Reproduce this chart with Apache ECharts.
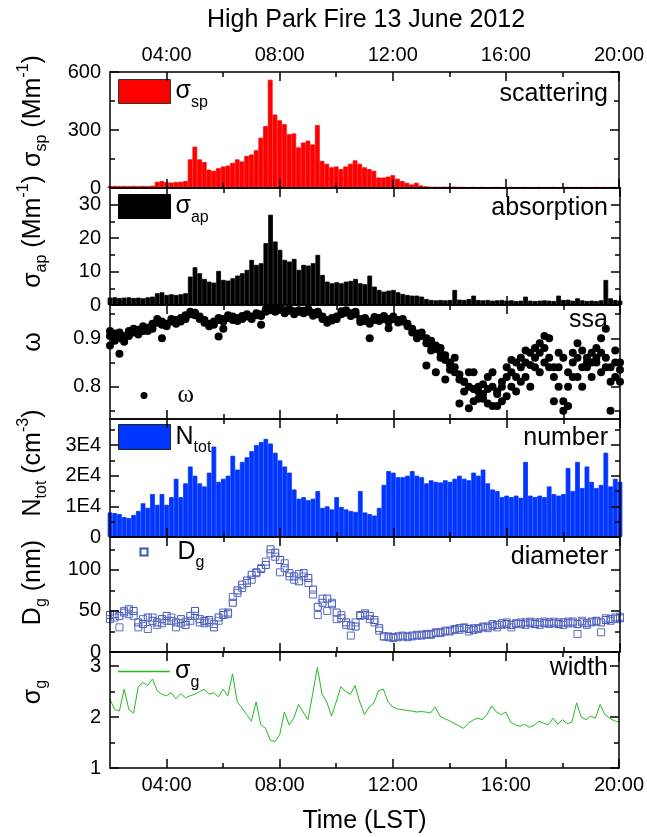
<!DOCTYPE html>
<html><head><meta charset="utf-8">
<script src="https://cdn.jsdelivr.net/npm/echarts@6/dist/echarts.min.js"></script>
<style>html,body{margin:0;padding:0;background:#fff}#c{width:647px;height:837px}</style>
</head><body><div id="c"></div>
<script>
// ---------------- DATA ----------------
const times = [
'02:00','02:10','02:20','02:30','02:40','02:50',
'03:00','03:10','03:20','03:30','03:40','03:50',
'04:00','04:10','04:20','04:30','04:40','04:50',
'05:00','05:10','05:20','05:30','05:40','05:50',
'06:00','06:10','06:20','06:30','06:40','06:50',
'07:00','07:10','07:20','07:30','07:40','07:50',
'08:00','08:10','08:20','08:30','08:40','08:50',
'09:00','09:10','09:20','09:30','09:40','09:50',
'10:00','10:10','10:20','10:30','10:40','10:50',
'11:00','11:10','11:20','11:30','11:40','11:50',
'12:00','12:10','12:20','12:30','12:40','12:50',
'13:00','13:10','13:20','13:30','13:40','13:50',
'14:00','14:10','14:20','14:30','14:40','14:50',
'15:00','15:10','15:20','15:30','15:40','15:50',
'16:00','16:10','16:20','16:30','16:40','16:50',
'17:00','17:10','17:20','17:30','17:40','17:50',
'18:00','18:10','18:20','18:30','18:40','18:50',
'19:00','19:10','19:20','19:30','19:40','19:50',
'20:00'];

const scattering = [
10,11,10,11,10,11,
10,11,10,12,32,36,
30,28,30,32,36,148,
214,148,134,95,89,102,
111,116,130,148,137,166,
173,195,260,320,560,380,
350,330,278,282,210,235,
245,225,325,140,125,107,
111,98,111,125,143,125,
107,98,89,54,54,59,
66,48,36,27,18,27,
13,9,7,7,6,7,
6,7,6,6,5,6,
5,6,5,5,6,5,
5,6,5,5,6,5,
5,6,5,5,6,5,
5,6,5,5,6,5,
5,6,5,6,5,6,
5];

const absorption = [
2.2,2.3,2.1,2.2,2.3,2.1,
2.2,2.0,2.3,2.5,3.5,3.8,
3.0,3.2,3.0,3.2,3.5,8.5,
11.3,9.5,7.8,7.0,6.7,10.2,
7.5,7.3,8.0,8.8,9.5,10.5,
13.5,12.0,12.5,18.5,27.0,19.0,
16.5,13.5,13.0,13.8,10.5,12.0,
11.8,12.5,15.0,9.0,7.0,6.5,
6.8,6.5,7.0,7.2,7.8,6.5,
6.2,8.8,5.5,4.5,4.0,4.3,
4.5,3.8,3.3,3.0,2.8,2.8,
2.5,1.8,1.5,1.4,1.5,1.4,
1.5,4.5,1.6,1.5,1.8,2.8,
1.5,1.4,1.5,1.3,1.4,1.5,
1.3,1.4,1.2,1.3,2.5,1.3,
1.2,1.3,1.4,1.3,1.2,2.8,
1.5,1.6,1.3,2.0,1.4,1.2,
1.3,1.2,1.4,7.5,2.0,1.5,
1.3];

const omegaA = [
0.905,0.910,0.900,0.905,0.915,0.912,
0.918,0.915,0.922,0.930,0.932,0.928,
0.930,0.935,0.938,0.942,0.948,0.950,
0.948,0.940,0.932,0.930,0.935,0.938,
0.940,0.942,0.938,0.942,0.940,0.945,
0.945,0.948,0.950,0.955,0.958,0.960,
0.960,0.958,0.957,0.956,0.955,0.957,
0.955,0.953,0.950,0.940,0.938,0.937,
0.940,0.950,0.953,0.952,0.950,0.940,
0.936,0.935,0.938,0.942,0.940,0.940,
0.940,0.938,0.935,0.930,0.920,0.910,
0.905,0.900,0.895,0.885,0.880,0.865,
0.850,0.840,0.825,0.810,0.800,0.795,
0.790,0.785,0.795,0.800,0.790,0.800,
0.820,0.830,0.820,0.840,0.850,0.845,
0.860,0.870,0.880,0.860,0.840,0.800,
0.770,0.830,0.850,0.860,0.840,0.860,
0.870,0.850,0.830,0.860,0.840,0.820,
0.835];

const omegaB = [
0.915,0.895,0.912,0.893,0.905,0.920,
0.908,0.925,0.915,0.920,0.940,0.935,
0.925,0.940,0.930,0.935,0.940,0.955,
0.953,0.945,0.938,0.925,0.928,0.942,
0.935,0.948,0.945,0.936,0.946,0.950,
0.940,0.952,0.946,0.960,0.963,0.955,
0.963,0.952,0.960,0.950,0.958,0.952,
0.960,0.947,0.955,0.945,0.932,0.942,
0.945,0.956,0.958,0.946,0.955,0.934,
0.942,0.930,0.944,0.936,0.946,0.934,
0.945,0.933,0.940,0.925,0.912,0.900,
0.912,0.890,0.885,0.878,0.870,0.855,
0.835,0.860,0.815,0.790,0.830,0.770,
0.800,0.775,0.820,0.760,0.785,0.770,
0.840,0.800,0.850,0.860,0.820,0.870,
0.840,0.890,0.850,0.900,0.820,0.870,
0.750,0.760,0.870,0.820,0.875,0.850,
0.850,0.880,0.900,0.920,0.810,0.850,
0.810];

const omegaC = [
0.885,null,0.868,null,null,null,
null,null,null,null,null,0.900,
null,null,null,null,null,null,
null,null,null,null,null,0.904,
0.920,null,null,null,null,null,
null,null,0.928,null,null,null,
null,null,null,null,null,null,
null,null,null,null,null,null,
null,null,null,null,null,null,
null,0.900,null,null,null,0.921,
null,null,null,null,null,null,
null,0.844,0.875,0.830,0.860,0.815,
0.845,0.830,0.765,0.810,0.755,0.830,
0.775,0.805,0.765,0.830,0.760,0.810,
0.780,0.855,0.790,0.810,0.875,0.800,
0.880,0.830,0.905,0.840,0.770,0.840,
0.860,0.800,0.820,0.890,0.800,0.840,
0.820,0.860,0.870,0.840,0.750,0.875,
0.850];

const numberTot = [
8000,7800,7500,6500,6200,7200,
8500,11000,9500,14000,10500,14000,
10500,13000,19000,13000,17500,23000,
20000,17500,16500,21000,29500,18000,
19000,20000,26500,22000,24500,26000,
28000,30000,31000,32000,30500,27500,
25000,23000,21000,15500,12500,13000,
12000,12500,15000,9500,10000,9000,
13000,9800,9000,8500,8200,15000,
8000,7500,7000,9500,17000,21500,
21000,19500,19500,20000,21500,20000,
19500,17500,18500,18000,17800,18500,
18000,19000,20000,19000,18500,21000,
20000,22000,17500,15500,15000,13000,
13500,13000,13500,12800,24500,13500,
13000,13500,13000,16500,14000,13500,
14000,22500,15000,24500,16000,23000,
18000,16000,17000,27500,16500,19000,
18000];

const diameterA = [
45,46,44,48,52,50,
36,34,42,38,36,40,
44,38,36,40,33,44,
50,40,38,39,30,42,
45,48,60,75,82,87,
94,97,101,106,125,121,
112,102,96,92,86,96,
90,76,55,60,65,58,
48,41,36,32,31,45,
47,44,39,29,19,18,
18,19,19,19,20,20,
21,21,22,23,24,25,
26,27,29,29,28,27,
29,30,31,32,33,35,
34,33,35,34,36,35,
34,36,35,36,35,34,
36,35,37,34,36,35,
37,38,36,39,40,42,
41];

const diameterB = [
40,42,30,50,46,44,
30,40,28,42,33,35,
38,42,30,35,37,38,
44,36,35,36,34,38,
48,46,67,72,78,84,
88,96,102,110,120,116,
97,108,92,88,95,92,
84,70,45,65,50,60,
40,45,33,20,36,44,
45,40,36,26,19,19,
17,18,20,18,19,21,
20,22,21,24,23,26,
25,28,27,30,25,29,
28,31,29,34,30,33,
36,30,34,36,33,37,
36,33,37,34,37,36,
33,37,35,22,38,33,
36,37,24,41,38,40,
43];

const widthG = [
2.35,2.15,2.12,2.55,2.15,2.08,
2.60,2.68,2.62,2.75,2.52,2.45,
2.42,2.48,2.36,2.46,2.38,2.42,
2.45,2.50,2.55,2.45,2.48,2.40,
2.55,2.42,2.85,2.30,2.18,2.05,
1.92,2.30,1.85,1.78,1.55,1.52,
1.65,2.10,1.85,1.98,2.25,2.10,
1.95,2.45,2.98,2.45,2.30,2.02,
2.30,2.60,2.50,2.45,2.62,2.30,
2.05,2.20,2.28,2.52,2.55,2.30,
2.20,2.16,2.15,2.13,2.12,2.10,
2.11,2.10,2.08,2.20,2.02,1.97,
1.93,1.88,1.83,1.78,1.88,1.94,
1.98,1.95,2.05,2.22,2.10,2.05,
2.10,1.90,1.85,1.82,1.86,1.80,
1.84,1.92,1.88,1.85,1.98,1.86,
1.95,1.87,1.90,2.28,2.00,1.95,
2.02,1.98,2.25,2.05,1.98,1.93,
1.90];

// tick values / labels
const xMajorHours = [4, 8, 12, 16, 20];
const xMinorHours = [6, 10, 14, 18];
const xTickLabels = ['04:00', '08:00', '12:00', '16:00', '20:00'];

const scatMajor = [0, 300, 600], scatMinor = [150, 450], scatLabels = ['0', '300', '600'];
const absMajor = [0, 10, 20, 30], absMinor = [5, 15, 25], absLabels = ['0', '10', '20', '30'];
const ssaMajor = [0.8, 0.9], ssaMinor = [0.75, 0.85, 0.95], ssaLabels = ['0.8', '0.9'];
const numMajor = [0, 10000, 20000, 30000], numMinor = [5000, 15000, 25000, 35000], numLabels = ['0', '1E4', '2E4', '3E4'];
const diaMajor = [0, 50, 100], diaMinor = [25, 75, 125], diaLabels = ['0', '50', '100'];
const widMajor = [1, 2, 3], widMinor = [1.5, 2.5], widLabels = ['1', '2', '3'];

// ---------------- CHART ----------------
const FONT = "'Liberation Sans', Arial, Helvetica, sans-serif";
const hours = times.map(t => Number(t.slice(0, 2)) + Number(t.slice(3, 5)) / 60);
const pairs = vals => vals.map((v, i) => [hours[i], v]).filter(p => p[1] !== null);

const panels = [
  {top: 72,  h: 116, min: 0, max: 600, major: scatMajor, minor: scatMinor, labels: scatLabels,
   name: '{t|σ}{s|sp}{t| (Mm}{u|-1}{t|)}', shift: 19},
  {top: 188, h: 117, min: 0, max: 35, major: absMajor, minor: absMinor, labels: absLabels,
   name: '{t|σ}{s|ap}{t| (Mm}{u|-1}{t|)}', shift: 15},
  {top: 305, h: 114, min: 0.733, max: 0.969, major: ssaMajor, minor: ssaMinor, labels: ssaLabels,
   name: '{t|ω}', shift: 20},
  {top: 419, h: 118, min: 0, max: 38500, major: numMajor, minor: numMinor, labels: numLabels,
   name: '{t|N}{s|tot}{t| (cm}{u|-3}{t|)}', shift: 15},
  {top: 537, h: 115, min: 0, max: 140, major: diaMajor, minor: diaMinor, labels: diaLabels,
   name: '{t|D}{s|g}{t| (nm)}', shift: 12},
  {top: 652, h: 116, min: 1, max: 3.28, major: widMajor, minor: widMinor, labels: widLabels,
   name: '{t|σ}{s|g}', shift: 18}
];

const lineSt = {color: '#000', width: 1.5};
const nameRich = {
  t: {fontSize: 25, fontFamily: FONT, color: '#000', lineHeight: 34},
  s: {fontSize: 16, fontFamily: FONT, color: '#000', verticalAlign: 'bottom'},
  u: {fontSize: 16, fontFamily: FONT, color: '#000', verticalAlign: 'top'}
};

const grid = [], xAxis = [], yAxis = [];
panels.forEach((p, g) => {
  grid.push({left: 110, width: 510, top: p.top, height: p.h});
  const xb = (pos, ticks, len, line, label) => ({
    type: 'value', gridIndex: g, position: pos, min: 2, max: 20, z: 10,
    splitLine: {show: false},
    axisLine: {show: line, onZero: false, lineStyle: lineSt},
    axisTick: {show: true, inside: true, length: len, customValues: ticks, lineStyle: lineSt},
    axisLabel: {show: label, customValues: xMajorHours,
      formatter: v => xTickLabels[xMajorHours.indexOf(Math.round(v))] || '',
      color: '#000', fontSize: 20, fontFamily: FONT, margin: 7}
  });
  const xBottom = xb('bottom', xMajorHours, 9, true, g === 5);
  if (g === 5) Object.assign(xBottom, {name: 'Time (LST)', nameLocation: 'middle', nameGap: 41,
    nameTextStyle: {fontSize: 25, fontFamily: FONT, color: '#000'}});
  xAxis.push(xBottom, xb('top', xMajorHours, 9, true, g === 0),
             xb('bottom', xMinorHours, 5, false, false), xb('top', xMinorHours, 5, false, false));

  const yb = (pos, ticks, len, line, label) => ({
    type: 'value', gridIndex: g, position: pos, min: p.min, max: p.max, z: 10,
    splitLine: {show: false},
    axisLine: {show: line, onZero: false, lineStyle: lineSt},
    axisTick: {show: true, inside: true, length: len, customValues: ticks, lineStyle: lineSt},
    axisLabel: {show: label, customValues: p.major,
      formatter: v => { const k = p.major.findIndex(m => Math.abs(m - v) < 1e-6); return k >= 0 ? p.labels[k] : ''; },
      color: '#000', fontSize: 20, fontFamily: FONT, margin: 9}
  });
  const yLeft = yb('left', p.major, 9, true, true);
  Object.assign(yLeft, {name: p.name, nameLocation: 'middle', nameGap: 60,
    nameTextStyle: {fontSize: 25, fontFamily: FONT, color: '#000', padding: [0, 0, 0, 2 * p.shift], rich: nameRich}});
  yAxis.push(yLeft, yb('left', p.minor, 5, false, false),
             yb('right', p.major, 9, true, false), yb('right', p.minor, 5, false, false));
});

const legRich = {
  t: {fontSize: 25, fontFamily: FONT, color: '#000', lineHeight: 38},
  s: {fontSize: 16, fontFamily: FONT, color: '#000', verticalAlign: 'bottom'},
  w: {fontSize: 25, fontFamily: "'Liberation Serif', 'Times New Roman', serif", color: '#000', lineHeight: 30}
};
const mkLegend = (name, top, label, extra, textPad) => Object.assign({
  data: [name], left: 118, top: top, padding: 0, itemWidth: 52, itemHeight: 24,
  selectedMode: false, formatter: () => label,
  textStyle: {color: '#000', fontFamily: FONT, fontSize: 25, rich: legRich, padding: textPad || 0}
}, extra || {});

const BLUE = '#0036ff';
const GREEN = '#22bb22';
const option = {
  animation: false,
  backgroundColor: '#fff',
  grid, xAxis, yAxis,
  legend: [
    mkLegend('ssp', 79, '{t|σ}{s|sp}', {icon: 'rect', itemStyle: {borderColor: '#333', borderWidth: 1}}),
    mkLegend('sap', 194, '{t|σ}{s|ap}', {icon: 'rect', itemStyle: {borderColor: '#000', borderWidth: 1}}),
    mkLegend('omega', 383, '{w|ω}', {left: 140.5, itemWidth: 7, itemHeight: 7, icon: 'circle'}, [0, 0, 0, 25]),
    mkLegend('ntot', 424, '{t|N}{s|tot}', {icon: 'rect', itemHeight: 25, itemStyle: {borderColor: '#222', borderWidth: 1}}),
    mkLegend('dg', 539.5, '{t|D}{s|g}', {left: 139.5, itemWidth: 7, itemHeight: 7, icon: 'rect'}, [0, 0, 0, 25]),
    mkLegend('sg', 659, '{t|σ}{s|g}', {itemHeight: 1.5, icon: 'rect', itemStyle: {color: GREEN, borderWidth: 0}})
  ],
  graphic: [
    {type: 'text', x: 366, y: 20, style: {text: 'High Park Fire 13 June 2012', font: '25px ' + FONT, fill: '#000', align: 'center', verticalAlign: 'middle'}},
    {type: 'text', x: 608, y: 94,  style: {text: 'scattering', font: '25px ' + FONT, fill: '#000', align: 'right', verticalAlign: 'middle'}},
    {type: 'text', x: 608, y: 208, style: {text: 'absorption', font: '25px ' + FONT, fill: '#000', align: 'right', verticalAlign: 'middle'}},
    {type: 'text', x: 608, y: 320, style: {text: 'ssa', font: '25px ' + FONT, fill: '#000', align: 'right', verticalAlign: 'middle'}},
    {type: 'text', x: 608, y: 438, style: {text: 'number', font: '25px ' + FONT, fill: '#000', align: 'right', verticalAlign: 'middle'}},
    {type: 'text', x: 608, y: 557, style: {text: 'diameter', font: '25px ' + FONT, fill: '#000', align: 'right', verticalAlign: 'middle'}},
    {type: 'text', x: 608, y: 668, style: {text: 'width', font: '25px ' + FONT, fill: '#000', align: 'right', verticalAlign: 'middle'}}
  ],
  series: [
    {name: 'ssp', type: 'bar', xAxisIndex: 0, yAxisIndex: 0, barWidth: 4.7, data: pairs(scattering),
     itemStyle: {color: '#ff0000', borderColor: '#ff0000', borderWidth: 0.8}},
    {name: 'sap', type: 'bar', xAxisIndex: 4, yAxisIndex: 4, barWidth: 4.7, data: pairs(absorption),
     itemStyle: {color: '#000000', borderColor: '#000000', borderWidth: 0.8}},
    {name: 'omega', type: 'scatter', xAxisIndex: 8, yAxisIndex: 8, symbolSize: 8, data: pairs(omegaA), itemStyle: {color: '#000', opacity: 1}},
    {name: 'omega', type: 'scatter', xAxisIndex: 8, yAxisIndex: 8, symbolSize: 8, data: pairs(omegaB), itemStyle: {color: '#000', opacity: 1}},
    {name: 'omega', type: 'scatter', xAxisIndex: 8, yAxisIndex: 8, symbolSize: 8, data: pairs(omegaC), itemStyle: {color: '#000', opacity: 1}},
    {name: 'ntot', type: 'bar', xAxisIndex: 12, yAxisIndex: 12, barWidth: 4.7, data: pairs(numberTot),
     itemStyle: {color: BLUE, borderColor: BLUE, borderWidth: 0.8}},
    {name: 'dg', type: 'scatter', xAxisIndex: 16, yAxisIndex: 16, symbol: 'rect', symbolSize: 7, data: pairs(diameterA),
     itemStyle: {color: 'rgba(255,255,255,0)', borderColor: '#3f51b5', borderWidth: 1, opacity: 1}},
    {name: 'dg', type: 'scatter', xAxisIndex: 16, yAxisIndex: 16, symbol: 'rect', symbolSize: 7, data: pairs(diameterB),
     itemStyle: {color: 'rgba(255,255,255,0)', borderColor: '#5a6cc4', borderWidth: 1, opacity: 1}},
    {name: 'sg', type: 'line', xAxisIndex: 20, yAxisIndex: 20, symbol: 'none', data: pairs(widthG),
     lineStyle: {color: GREEN, width: 1}, itemStyle: {color: GREEN}}
  ]
};

const chart = echarts.init(document.getElementById('c'), null, {renderer: 'canvas'});
chart.setOption(option);
</script>
</body></html>
